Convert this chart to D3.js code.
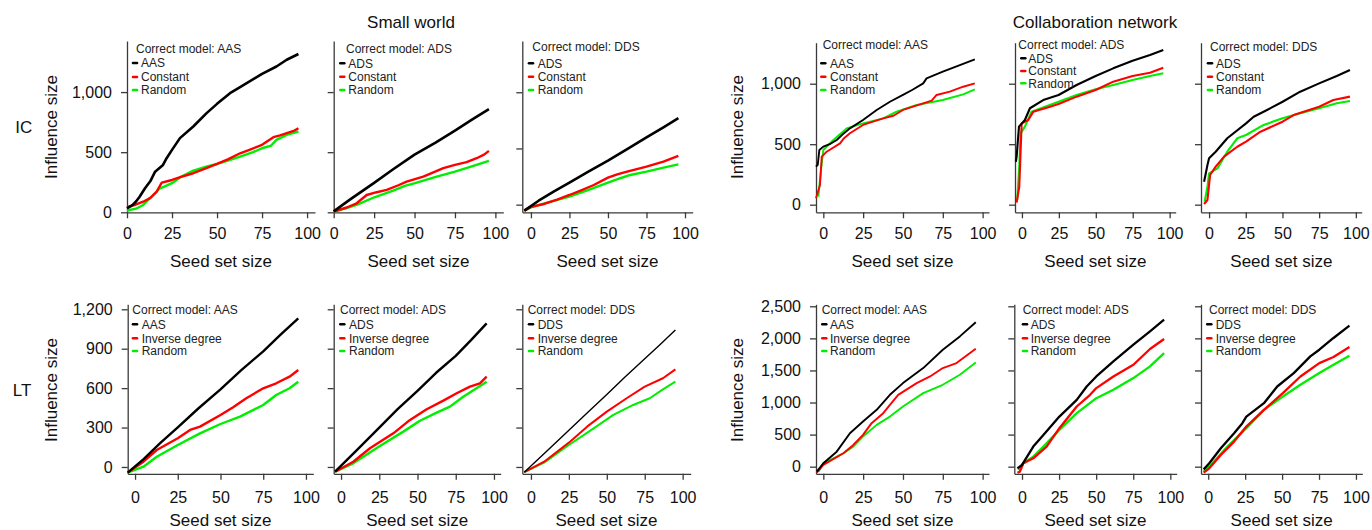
<!DOCTYPE html>
<html>
<head>
<meta charset="utf-8">
<script src="https://cdn.jsdelivr.net/npm/d3@7/dist/d3.min.js"></script>
<style>
  html, body { margin: 0; padding: 0; background: #fff; }
  svg { display: block; font-family: "Liberation Sans", Arial, Helvetica, sans-serif; }
  .axis path, .axis line { stroke: #3a3a3a; stroke-width: 1.3; }
  .axis text { fill: #111; font-size: 16px; }
</style>
</head>
<body>
<svg id="chart" width="1372" height="530"></svg>
<script>
// ---- categories / labels ----
var networks = ["Small world", "Collaboration network"];
var processes = ["IC", "LT"];
var correctModels = ["AAS", "ADS", "DDS"];
var legendIC = [["AAS", "Constant", "Random"], ["ADS", "Constant", "Random"], ["ADS", "Constant", "Random"]];
var legendLT = [["AAS", "Inverse degree", "Random"], ["ADS", "Inverse degree", "Random"], ["DDS", "Inverse degree", "Random"]];
var seriesColors = ["#000000", "#ff0000", "#00ee00"];

// ---- ticks ----
var xTicks = [0, 25, 50, 75, 100];
var yTicksIC = [0, 500, 1000];
var yTicksSwLT = [0, 300, 600, 900, 1200];
var yTicksColLT = [0, 500, 1000, 1500, 2000, 2500];

// ---- series: [seed set size, influence size] ----
// Small world, IC
var sw_ic_aas_k = [[0,33],[3,60],[5,90],[7,130],[10,200],[13,260],[15.6,338],[20,394],[22,450],[25,519],[29.4,617],[36.8,714],[44.2,825],[50,902],[57.2,991],[62.8,1041],[75,1152],[83,1213],[88.7,1269],[95.2,1317]];
var sw_ic_aas_r = [[0,42],[5,65],[9,88],[13,120],[16.5,172],[17.5,200],[19.3,247],[25,269],[30,295],[36.8,325],[43,362],[50,402],[56,440],[62.8,491],[68,520],[75,561],[81.3,625],[85,640],[88.7,658],[93,680],[95.2,700]];
var sw_ic_aas_g = [[0,15],[5,30],[9,61],[14.6,144],[18.3,200],[21,215],[25,242],[30,295],[36.8,347],[44,380],[50,402],[56,430],[62.8,463],[70,500],[75,533],[80,555],[83,602],[88.7,644],[95.2,672]];
var sw_ic_ads_k = [[0,8],[10,105],[25,245],[37,360],[50,480],[63,580],[75,680],[86,775],[96,858]];
var sw_ic_ads_r = [[0,5],[8,40],[14.2,75],[20.4,144],[26,165],[32.8,186],[40,225],[45.1,255],[55.4,297],[62,335],[67.8,367],[75,395],[82.2,417],[88.4,450],[93,480],[96,511]];
var sw_ic_ads_g = [[0,5],[8,35],[14.2,61],[25.1,125],[36.8,180],[44,220],[50.3,242],[63.7,297],[75,339],[86.4,386],[96,428]];
var sw_ic_dds_k = [[-4.3,-53],[5,35],[15,118],[25,196],[37,292],[50,392],[63,498],[75,598],[86,688],[95.7,769]];
var sw_ic_dds_r = [[-4.3,-53],[0,-20],[8.6,6],[17,45],[25,86],[33,130],[40.8,175],[50,240],[56,270],[62.4,294],[75,338],[86,383],[95.7,433]];
var sw_ic_dds_g = [[-4.3,-53],[0,-25],[10,15],[25,71],[37,130],[50,196],[58,235],[64.5,264],[75,294],[86,329],[95.7,359]];
// Collaboration network, IC
var col_ic_aas_k = [[-4.6,314],[-3.5,330],[-2.5,452],[0,480],[4,500],[8.4,535],[12,580],[16.7,631],[24.9,700],[33.5,783],[41.8,851],[50,907],[56,950],[62.7,1003],[64.8,1044],[75,1099],[85.7,1154],[95.1,1201]];
var col_ic_aas_r = [[-4.6,53],[-2.1,163],[-1,397],[2.1,438],[10.5,507],[13,550],[16.7,590],[24.9,659],[37.6,714],[44,735],[50,783],[62.7,838],[68,860],[71.1,907],[79.4,934],[87.8,975],[95.1,1003]];
var col_ic_aas_g = [[-3.1,66],[-1.7,259],[0,452],[6.3,535],[14.6,631],[24.9,672],[37.6,714],[46,769],[58.6,824],[75,865],[87.8,912],[95.1,954]];
var col_ic_ads_k = [[-4.1,355],[-3.6,397],[-2,645],[2,700],[5.4,797],[14.4,865],[24.8,907],[37,989],[49.9,1064],[61.8,1127],[74.9,1190],[86.7,1237],[95.7,1279]];
var col_ic_ads_r = [[-3.6,17],[-1.8,149],[-0.2,672],[4.3,700],[7.7,769],[19,810],[24.8,832],[37,893],[49.9,948],[61.8,1017],[74.9,1064],[86.7,1091],[95.7,1132]];
var col_ic_ads_g = [[-3.2,39],[-1.8,314],[-0.9,590],[2,645],[6.5,769],[24.8,851],[37,907],[49.9,954],[61.8,989],[74.9,1031],[86.7,1064],[95.7,1086]];
var col_ic_dds_k = [[-3.4,190],[-1.1,328],[0,383],[4.5,438],[12.4,549],[25.2,672],[30.4,727],[39.5,783],[50.1,851],[62.1,934],[75,1003],[87,1064],[96,1113]];
var col_ic_dds_r = [[-3.4,6],[-1.1,39],[0.7,245],[4.5,314],[10.2,397],[19.2,479],[25.2,521],[35,603],[50.1,686],[57.6,741],[75,810],[84.7,865],[96,893]];
var col_ic_dds_g = [[-3,25],[-1.1,149],[0,259],[5.7,300],[12.4,438],[19.2,549],[25.2,576],[37.2,659],[50.1,714],[62.1,755],[75,797],[87,838],[96,857]];
// Small world, LT
var sw_lt_aas_k = [[-4.3,-43],[5,60],[15,185],[25,302],[37,445],[50,590],[62,735],[75,880],[85,1005],[95.5,1131]];
var sw_lt_aas_r = [[-4.3,-43],[4.9,40],[12.7,129],[25,218],[32.2,282],[38,307],[50,396],[57.4,454],[65.1,523],[75,599],[82.6,637],[90.4,687],[95.5,738]];
var sw_lt_aas_g = [[-4.3,-43],[4.9,2],[12.7,78],[25,167],[38,256],[50,327],[61.4,383],[75,472],[82.6,548],[90.4,599],[95.5,649]];
var sw_lt_ads_k = [[-3.9,-36],[10,125],[25,300],[37,440],[50,580],[62,715],[75,845],[85,965],[95.2,1093]];
var sw_lt_ads_r = [[-3.9,-36],[8,40],[18.9,142],[34.2,256],[45.1,358],[56,439],[66.9,505],[75.6,561],[84.3,611],[90.8,637],[95.2,687]];
var sw_lt_ads_g = [[-3.9,-36],[8,28],[25.4,160],[40.7,269],[51.6,352],[62.5,413],[71.2,459],[79.9,535],[88.6,599],[95.2,649]];
var sw_lt_dds_k = [[-4.4,-40],[10,115],[25,280],[37,410],[50,551],[62,685],[75,823],[85,930],[95.2,1043]];
var sw_lt_dds_r = [[-4.4,-40],[8.7,40],[25,185],[37,307],[50,421],[63.1,523],[75,611],[87,675],[95.2,743]];
var sw_lt_dds_g = [[-4.4,-40],[8.7,33],[25,167],[41.3,294],[54.3,396],[67.4,472],[78.3,523],[87,591],[95.2,649]];
// Collaboration network, LT
var col_lt_aas_k = [[-4.1,-78],[0,53],[8.4,234],[16.7,522],[24.9,703],[33.5,886],[41.8,1120],[50,1303],[62.7,1537],[75,1823],[85.7,2031],[95.7,2250]];
var col_lt_aas_r = [[-4.1,-94],[0,27],[12.6,209],[18.8,339],[24.9,495],[30.3,678],[37.6,834],[41.8,964],[47,1120],[58.6,1303],[67,1406],[75,1537],[83.6,1615],[95.7,1839]];
var col_lt_aas_g = [[-3.1,-78],[0,53],[12.6,209],[18.8,313],[24.9,469],[33.5,652],[41.8,781],[50,938],[62.7,1147],[75,1277],[85.7,1433],[95.7,1625]];
var col_lt_ads_k = [[-3.1,-26],[0,27],[7.6,313],[14.4,495],[25.2,781],[36.9,1042],[43.6,1250],[50.1,1406],[61.6,1641],[75.1,1901],[86.3,2109],[95.8,2292]];
var col_lt_ads_r = [[-3.1,-94],[-1.5,-78],[0.9,53],[7.6,131],[16.6,313],[25.2,600],[36.9,938],[45.9,1120],[50.1,1225],[61.6,1406],[75.1,1589],[86.3,1834],[95.8,1990]];
var col_lt_ads_g = [[-2.4,-52],[0.9,53],[7.6,156],[14.4,313],[25.2,573],[36.9,834],[50.1,1068],[61.6,1198],[75.1,1381],[86.3,1563],[95.8,1771]];
var col_lt_dds_k = [[-3.1,-42],[0.7,53],[8.5,287],[17.5,522],[23.1,678],[25.8,781],[37.7,990],[46.7,1250],[57.9,1459],[69.1,1719],[75.2,1823],[84.8,2006],[95.6,2198]];
var col_lt_dds_r = [[-3.1,-94],[0.7,-26],[8.5,183],[17.5,391],[25.8,625],[37.7,886],[50.5,1147],[62.4,1406],[75.2,1615],[84.8,1709],[95.6,1865]];
var col_lt_dds_g = [[-3.1,-78],[0.7,0],[13,313],[25.8,600],[37.7,886],[50.5,1094],[62.4,1277],[75.2,1459],[84.8,1589],[95.6,1730]];

// ---- panel table (built from the arrays above) ----
var panels = [
  { net: 0, proc: 0, m: 0, legend: legendIC[0], yTicks: yTicksIC, series: [sw_ic_aas_k, sw_ic_aas_r, sw_ic_aas_g] },
  { net: 0, proc: 0, m: 1, legend: legendIC[1], yTicks: yTicksIC, series: [sw_ic_ads_k, sw_ic_ads_r, sw_ic_ads_g] },
  { net: 0, proc: 0, m: 2, legend: legendIC[2], yTicks: yTicksIC, series: [sw_ic_dds_k, sw_ic_dds_r, sw_ic_dds_g] },
  { net: 1, proc: 0, m: 0, legend: legendIC[0], yTicks: yTicksIC, series: [col_ic_aas_k, col_ic_aas_r, col_ic_aas_g] },
  { net: 1, proc: 0, m: 1, legend: legendIC[1], yTicks: yTicksIC, series: [col_ic_ads_k, col_ic_ads_r, col_ic_ads_g] },
  { net: 1, proc: 0, m: 2, legend: legendIC[2], yTicks: yTicksIC, series: [col_ic_dds_k, col_ic_dds_r, col_ic_dds_g] },
  { net: 0, proc: 1, m: 0, legend: legendLT[0], yTicks: yTicksSwLT, series: [sw_lt_aas_k, sw_lt_aas_r, sw_lt_aas_g] },
  { net: 0, proc: 1, m: 1, legend: legendLT[1], yTicks: yTicksSwLT, series: [sw_lt_ads_k, sw_lt_ads_r, sw_lt_ads_g] },
  { net: 0, proc: 1, m: 2, legend: legendLT[2], yTicks: yTicksSwLT, series: [sw_lt_dds_k, sw_lt_dds_r, sw_lt_dds_g] },
  { net: 1, proc: 1, m: 0, legend: legendLT[0], yTicks: yTicksColLT, series: [col_lt_aas_k, col_lt_aas_r, col_lt_aas_g] },
  { net: 1, proc: 1, m: 1, legend: legendLT[1], yTicks: yTicksColLT, series: [col_lt_ads_k, col_lt_ads_r, col_lt_ads_g] },
  { net: 1, proc: 1, m: 2, legend: legendLT[2], yTicks: yTicksColLT, series: [col_lt_dds_k, col_lt_dds_r, col_lt_dds_g] }
];

// ---- layout (pixel frames, domains as R drew them, legend spots, line widths) ----
var TOP = [212.3, 41], TOPC = [212.3, 42.7], BOT = [473.8, 304.3];
var layout = [
  { xr: [127, 315],      xd: [0, 104.4],    yr: TOP,  yd: [0, 1425],     lg: [136, 48.3, 135, 141, [63, 77, 90]],          lw: [2.6, 2.4, 2.4], lab: true },
  { xr: [333.7, 503.3],  xd: [0, 104.9],    yr: TOP,  yd: [0, 1425],     lg: [346, 48.3, 342.3, 348.3, [63.3, 76.7, 90]],  lw: [2.6, 2.4, 2.4] },
  { xr: [522.3, 692.7],  xd: [-5.6, 105],   yr: TOP,  yd: [-68, 1456],   lg: [532.3, 46.7, 531, 537.7, [63.3, 76.7, 90]],  lw: [2.6, 2.4, 2.4] },
  { xr: [816, 989],      xd: [-4.6, 104],   yr: TOPC, yd: [-63, 1339],   lg: [822.7, 45, 823.3, 830, [63.3, 76.7, 90]],    lw: [1.9, 1.9, 1.9], lab: true },
  { xr: [1015, 1175.7],  xd: [-4.7, 104.1], yr: TOPC, yd: [-63, 1339],   lg: [1018.3, 44.3, 1023.3, 1028.3, [58.3, 71, 83.3]], lw: [2.1, 2.1, 2.1] },
  { xr: [1201, 1361.7],  xd: [-5.5, 104],   yr: TOPC, yd: [-63, 1339],   lg: [1210, 46.7, 1210, 1216, [63.3, 76.7, 90]],   lw: [2.1, 2.1, 2.1] },
  { xr: [127.7, 313.3],  xd: [-4.3, 104.3], yr: BOT,  yd: [-52, 1238],   lg: [132.3, 309.3, 135, 141.7, [324.3, 338.3, 351]], lw: [2.4, 2.4, 2.4], lab: true },
  { xr: [333.7, 500.7],  xd: [-4.8, 104.4], yr: BOT,  yd: [-52, 1238],   lg: [340, 309.3, 342.3, 349, [324.3, 338.3, 351]],  lw: [2.4, 2.4, 2.4] },
  { xr: [522.3, 690.7],  xd: [-5.7, 105.3], yr: BOT,  yd: [-52, 1238],   lg: [527.7, 309.3, 531, 537.7, [324.3, 338.3, 351]], lw: [1.4, 2, 2] },
  { xr: [816, 989],      xd: [-4.6, 104],   yr: BOT,  yd: [-111, 2531],  lg: [821.7, 310, 824.3, 830, [324.3, 338.3, 351]],  lw: [1.9, 1.9, 1.9], lab: true },
  { xr: [1014.3, 1176.7], xd: [-5.2, 104.3], yr: BOT, yd: [-111, 2531],  lg: [1022.7, 310, 1025, 1030.7, [324.3, 338.3, 351]], lw: [2.3, 2.3, 2.3] },
  { xr: [1201, 1362.3],  xd: [-4.9, 104.3], yr: BOT,  yd: [-111, 2531],  lg: [1209, 310, 1209.3, 1215.7, [324.3, 338.3, 351]], lw: [2.3, 2.3, 2.3] }
];

var svg = d3.select("#chart");
svg.append("rect").attr("width", 1372).attr("height", 530).attr("fill", "#fff");

var fmt = d3.format(",");

panels.forEach(function (p, i) {
  var L = layout[i];
  var x = d3.scaleLinear().domain(L.xd).range(L.xr);
  var y = d3.scaleLinear().domain(L.yd).range(L.yr);
  var g = svg.append("g");
  var top = p.proc === 0;

  // axes (L-shaped frame, R style)
  g.append("g").attr("class", "axis")
    .attr("transform", "translate(0," + L.yr[0] + ")")
    .call(d3.axisBottom(x).tickValues(xTicks).tickSize(6).tickSizeOuter(0)
      .tickPadding(top ? 9 : 11.5).tickFormat(d3.format("d")));
  g.append("g").attr("class", "axis")
    .attr("transform", "translate(" + L.xr[0] + ",0)")
    .call(d3.axisLeft(y).tickValues(p.yTicks).tickSize(6).tickSizeOuter(0).tickPadding(9)
      .tickFormat(L.lab ? fmt : function () { return ""; }));

  // lines: random, then alternative, then the correct model on top
  var line = d3.line().x(function (d) { return x(d[0]); }).y(function (d) { return y(d[1]); });
  [2, 1, 0].forEach(function (k) {
    g.append("path").datum(p.series[k])
      .attr("fill", "none")
      .attr("stroke", seriesColors[k])
      .attr("stroke-width", L.lw[k])
      .attr("stroke-linejoin", "round")
      .attr("d", line);
  });

  // legend
  var lg = g.append("g").attr("font-size", 12).attr("fill", "#222");
  lg.append("text").attr("x", L.lg[0]).attr("y", L.lg[1]).attr("dy", "0.35em")
    .text("Correct model: " + correctModels[p.m]);
  p.legend.forEach(function (name, k) {
    var yy = L.lg[4][k];
    lg.append("line").attr("x1", L.lg[2] - 2).attr("x2", L.lg[2] + 2)
      .attr("y1", yy).attr("y2", yy)
      .attr("stroke", seriesColors[k]).attr("stroke-width", 2.6).attr("stroke-linecap", "round");
    lg.append("text").attr("x", L.lg[3]).attr("y", yy).attr("dy", "0.35em").text(name);
  });

  // x axis title (bottom row sits right at the page edge, as in the figure)
  g.append("text").attr("x", (L.xr[0] + L.xr[1]) / 2).attr("y", top ? 267.3 : 525.5)
    .attr("text-anchor", "middle").attr("font-size", 17).attr("fill", "#111")
    .text("Seed set size");

  // y axis title on the first panel of each network
  if (L.lab) {
    g.append("text")
      .attr("transform", "translate(" + (p.net === 0 ? 56.5 : 742.5) + "," + (top ? 127 : 390) + ") rotate(-90)")
      .attr("text-anchor", "middle").attr("font-size", 17).attr("fill", "#111")
      .text("Influence size");
  }
});

// column titles
svg.append("text").attr("x", 411).attr("y", 28).attr("text-anchor", "middle")
  .attr("font-size", 17).attr("fill", "#111").text(networks[0]);
svg.append("text").attr("x", 1095).attr("y", 28).attr("text-anchor", "middle")
  .attr("font-size", 17).attr("fill", "#111").text(networks[1]);

// row labels
svg.append("text").attr("x", 23.7).attr("y", 133.3).attr("text-anchor", "middle")
  .attr("font-size", 17).attr("fill", "#111").text(processes[0]);
svg.append("text").attr("x", 22).attr("y", 396).attr("text-anchor", "middle")
  .attr("font-size", 17).attr("fill", "#111").text(processes[1]);
</script>
</body>
</html>
